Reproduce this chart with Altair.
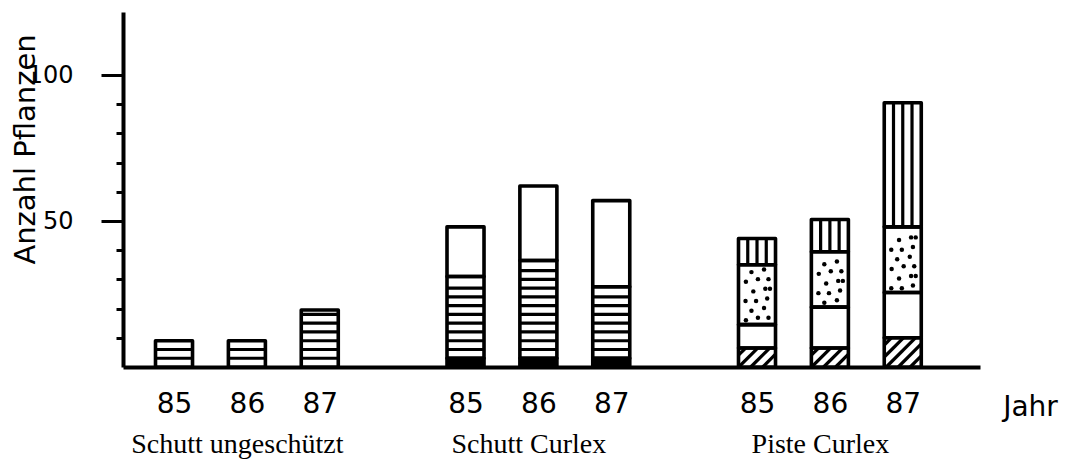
import altair as alt
import pandas as pd

# ---------------- data ----------------
groups = ["Schutt ungeschützt", "Schutt Curlex", "Piste Curlex"]
years = ["85", "86", "87"]

# segment heights (Anzahl Pflanzen), bottom to top, for 85 / 86 / 87
ungeschuetzt_horizontal = [9, 9, 19.5]

curlex_schwarz = [3, 3, 3]
curlex_horizontal = [28, 33.5, 24.5]
curlex_leer = [17, 25.5, 29.5]

piste_diagonal = [6.5, 6.5, 10]
piste_leer = [8, 14, 15.5]
piste_punkte = [20.5, 19, 22.5]
piste_vertikal = [9, 11, 42.5]

y_ticks = [10, 20, 30, 40, 50, 60, 70, 80, 90, 100]

stacks = [
    [("horizontal", ungeschuetzt_horizontal)],
    [("schwarz", curlex_schwarz), ("horizontal", curlex_horizontal), ("leer", curlex_leer)],
    [("diagonal", piste_diagonal), ("leer", piste_leer), ("punkte", piste_punkte),
     ("vertikal", piste_vertikal)],
]

# ---------------- layout ----------------
X_MIN, X_MAX = -0.70, 11.06
Y_MAX = 121.6
PLOT_W, PLOT_H = 857, 355
PX_X = PLOT_W / (X_MAX - X_MIN)
PX_Y = PLOT_H / Y_MAX
HALF = 0.254  # half bar width in slot units

seg_rows, line_rows, dot_rows = [], [], []
dot_pattern = [[-0.6, 0.05, 0.62], [-0.3, 0.38], [-0.62, -0.05, 0.55], [-0.2, 0.45, 0.7]]

for g, stack in enumerate(stacks):
    for i, yr in enumerate(years):
        slot = 4 * g + i
        lo = 0.0
        for muster, vals in stack:
            hi = lo + vals[i]
            x1, x2 = slot - HALF, slot + HALF
            seg_rows.append(dict(group=groups[g], year=yr, muster=muster, x=x1, x2=x2,
                                 y=lo, y2=hi, fill="black" if muster == "schwarz" else "white"))
            if muster == "horizontal":
                yy = lo + 3.0
                while yy < hi - 1.3:
                    line_rows.append(dict(x=x1, x2=x2, y=yy, y2=yy))
                    yy += 3.0
            elif muster == "vertikal":
                for f in (-0.5, 0.0, 0.5):
                    line_rows.append(dict(x=slot + f * HALF, x2=slot + f * HALF, y=lo, y2=hi))
            elif muster == "diagonal":
                W = 2 * HALF * PX_X
                H = (hi - lo) * PX_Y
                step = 12.0
                c = -H + step * 0.6
                while c < W:
                    xa, xb = max(0.0, c), min(W, H + c)
                    if xb - xa > 2:
                        line_rows.append(dict(x=x1 + xa / PX_X, x2=x1 + xb / PX_X,
                                              y=lo + (xa - c) / PX_Y, y2=lo + (xb - c) / PX_Y))
                    c += step
            elif muster == "punkte":
                r = 0
                yy = lo + 1.8
                while yy < hi - 1.2:
                    for f in dot_pattern[(r + i) % len(dot_pattern)]:
                        dot_rows.append(dict(x=slot + f * HALF, y=yy + (0.6 if f > 0 else -0.3)))
                    yy += 3.3
                    r += 1
            lo = hi

segs = pd.DataFrame(seg_rows)
lines = pd.DataFrame(line_rows)
dots = pd.DataFrame(dot_rows)
labels = pd.DataFrame(dict(group=groups, x=[4 * g + 1 - 0.13 for g in range(3)]))

slots = [4 * g + i for g in range(3) for i in range(3)]

xscale = alt.Scale(domain=[X_MIN, X_MAX], nice=False, zero=False)
yscale = alt.Scale(domain=[0, Y_MAX], nice=False)

xaxis = alt.Axis(
    values=slots, labelExpr="['85','86','87'][datum.value % 4]", tickSize=0,
    domainWidth=4, domainColor="black", labelFont="DejaVu Sans", labelFontSize=28,
    labelColor="black", labelBaseline="alphabetic", labelPadding=45, grid=False,
    labelFlush=False, labelOverlap=False,
    title="Jahr", titleFont="DejaVu Sans", titleFontSize=28, titleFontWeight="normal",
    titleColor="black", titleX=907, titleY=48, titleAlign="center", titleBaseline="alphabetic",
    titleAngle=0,
)
yaxis = alt.Axis(
    values=y_ticks, labelExpr="datum.value % 50 === 0 ? datum.label : ''",
    tickSize={"condition": {"test": "datum.value % 50 === 0", "value": 22}, "value": 7},
    tickWidth=3, tickColor="black", domainWidth=4, domainColor="black",
    labelFont="DejaVu Sans", labelFontSize=24, labelColor="black", labelPadding=28,
    grid=False, labelBaseline="middle",
    title="Anzahl Pflanzen", titleFont="DejaVu Sans", titleFontSize=29, titleFontWeight="normal",
    titleColor="black", titleAngle=270, titleX=-89, titleY=137, titleAlign="center",
    titleBaseline="alphabetic",
)

def X(field="x"):
    return alt.X(f"{field}:Q", scale=xscale, axis=xaxis)

def Y(field="y"):
    return alt.Y(f"{field}:Q", scale=yscale, axis=yaxis)

fills = alt.Chart(segs).mark_rect(strokeWidth=0).encode(
    x=X(), x2="x2:Q", y=Y(), y2="y2:Q", fill=alt.Fill("fill:N", scale=None)
)
hatch = alt.Chart(lines).mark_rule(color="black", strokeWidth=3.2).encode(
    x=X(), x2="x2:Q", y=Y(), y2="y2:Q"
)
stipple = alt.Chart(dots).mark_circle(color="black", size=20, opacity=1).encode(
    x=X(), y=Y()
)
outline = alt.Chart(segs).mark_rect(fillOpacity=0, stroke="black", strokeWidth=3.6,
                                     strokeJoin="round").encode(
    x=X(), x2="x2:Q", y=Y(), y2="y2:Q"
)
group_text = alt.Chart(labels).mark_text(
    font="Liberation Serif", fontSize=28, color="black", baseline="alphabetic", align="center"
).encode(x=X(), y=alt.value(PLOT_H + 86), text="group:N")

chart = alt.layer(fills, hatch, stipple, outline, group_text).properties(
    width=PLOT_W, height=PLOT_H,
    autosize=alt.AutoSizeParams(type="none"),
    padding={"left": 115, "top": 4, "right": 83, "bottom": 92},
    background="white",
).configure_view(stroke=None)

chart.save("out.html", embed_options={"renderer": "svg", "actions": False})
